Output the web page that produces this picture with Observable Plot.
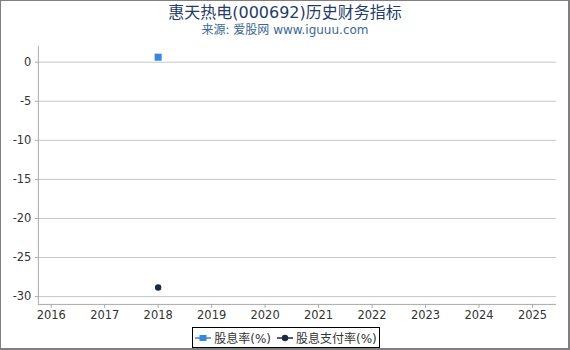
<!DOCTYPE html>
<html>
<head>
<meta charset="utf-8">
<script src="https://cdn.jsdelivr.net/npm/d3@7"></script>
<script src="https://cdn.jsdelivr.net/npm/@observablehq/plot@0.6"></script>
<style>
  html, body { margin: 0; padding: 0; background: #fff; }
  #wrap { position: relative; width: 570px; height: 350px; box-sizing: border-box;
          border-left: 1px solid #7f7f7f; border-top: 1px solid #7f7f7f;
          border-right: 2px solid #7f7f7f; border-bottom: 2px solid #7f7f7f;
          font-family: "DejaVu Sans", "Noto Sans CJK SC", sans-serif; overflow: hidden; }
  #title { position: absolute; top: -2px; left: 0; width: 568px; text-align: center;
           font-size: 16px; color: #1f3d66; }
  #subtitle { position: absolute; top: 19px; left: 0; width: 568px; text-align: center;
              font-size: 12px; color: #3b6794; }
  #chart { position: absolute; left: -1px; top: -1px; }
  #legend { position: absolute; left: 191px; top: 326px; width: 186px; height: 19px;
            border: 1px solid #000; box-sizing: content-box; font-size: 12px; color: #333; background: #fff;
            display: flex; align-items: center; justify-content: center; gap: 6px; white-space: nowrap; }
  .item { display: flex; align-items: center; gap: 3px; }
</style>
</head>
<body>
<div id="wrap">
  <div id="title">惠天热电(000692)历史财务指标</div>
  <div id="subtitle">来源: 爱股网 www.iguuu.com</div>
  <div id="chart"></div>
  <div id="legend"></div>
</div>
<script>
const years = [2018];
const dividendYield = [0.64];
const payoutRatio = [-28.84];
const xTicks = [2016, 2017, 2018, 2019, 2020, 2021, 2022, 2023, 2024, 2025];
const yTicks = [0, -5, -10, -15, -20, -25, -30];
const seriesNames = ["股息率(%)", "股息支付率(%)"];
const seriesColors = ["#3a86d8", "#1b2a42"];

const xDomain = [2015.76, 2025.45];
const yDomain = [-31.0, 2.03];

const yieldData = years.map((y, i) => ({year: y, value: dividendYield[i]}));
const payoutData = years.map((y, i) => ({year: y, value: payoutRatio[i]}));

const chart = Plot.plot({
  width: 570,
  height: 326,
  marginTop: 46,
  marginBottom: 21,
  marginLeft: 38,
  marginRight: 12,
  style: {fontFamily: "DejaVu Sans, sans-serif", fontSize: "11.5px", color: "#333", background: "transparent"},
  x: {domain: xDomain, ticks: xTicks, tickFormat: d => String(d), tickSize: 4, tickPadding: 2, label: null},
  y: {domain: yDomain, ticks: yTicks, tickFormat: d => String(d), tickSize: 3, tickPadding: 4, label: null},
  marks: [
    Plot.gridY(yTicks, {stroke: "#c6c6c6", strokeOpacity: 1, strokeWidth: 1}),
    Plot.ruleX([xDomain[0]], {stroke: "#aaa"}),
    Plot.ruleY([yDomain[0]], {stroke: "#aaa"}),
    Plot.axisX({ticks: xTicks, tickFormat: d => String(d), tickSize: 4, stroke: "#aaa", tickPadding: 2, label: null, fill: "#333"}),
    Plot.axisY({ticks: yTicks, tickFormat: d => String(d), tickSize: 3, stroke: "#aaa", tickPadding: 4, label: null, fill: "#333"}),
    Plot.line(yieldData, {x: "year", y: "value", stroke: seriesColors[0]}),
    Plot.dot(yieldData, {x: "year", y: "value", symbol: "square", r: 4, fill: seriesColors[0]}),
    Plot.line(payoutData, {x: "year", y: "value", stroke: seriesColors[1]}),
    Plot.dot(payoutData, {x: "year", y: "value", symbol: "circle", r: 3.2, fill: seriesColors[1]})
  ]
});
document.getElementById("chart").appendChild(chart);

const legend = document.getElementById("legend");
seriesNames.forEach((name, i) => {
  const item = document.createElement("div");
  item.className = "item";
  const marker = i === 0
    ? `<svg width="16" height="10"><line x1="0" y1="5" x2="16" y2="5" stroke="${seriesColors[i]}" stroke-width="1.5"/><rect x="4.5" y="2" width="7" height="6" fill="${seriesColors[i]}"/></svg>`
    : `<svg width="16" height="10"><line x1="0" y1="5" x2="16" y2="5" stroke="${seriesColors[i]}" stroke-width="1.5"/><circle cx="8" cy="5" r="3.2" fill="${seriesColors[i]}"/></svg>`;
  item.innerHTML = marker + `<span>${name}</span>`;
  legend.appendChild(item);
});
</script>
</body>
</html>
